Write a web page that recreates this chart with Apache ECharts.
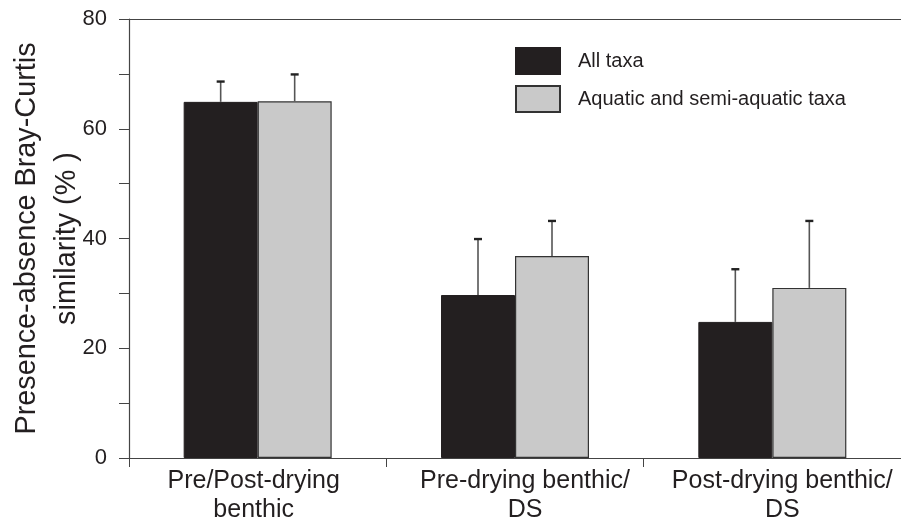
<!DOCTYPE html>
<html>
<head>
<meta charset="utf-8">
<script src="https://cdn.jsdelivr.net/npm/echarts@6/dist/echarts.min.js"></script>
<style>html,body{margin:0;padding:0;background:#fff;}#c{width:901px;height:526px;}</style>
</head>
<body>
<div id="c"></div>
<script>
var categories = ['Pre/Post-drying\nbenthic', 'Pre-drying benthic/\nDS', 'Post-drying benthic/\nDS'];
var seriesNames = ['All taxa', 'Aquatic and semi-aquatic taxa'];
var allTaxa = [64.9, 29.7, 24.8];
var allTaxaErrTop = [68.6, 39.9, 34.4];
var aquaticTaxa = [65.0, 36.8, 31.0];
var aquaticTaxaErrTop = [69.9, 43.2, 43.2];
var yTicks = [0, 20, 40, 60, 80];
var labelShift = [-4, 10, 10];

var BAR_W = 74;
var textColor = '#231f20';
var axisColor = '#444';

function errData(vals, tops) {
  return vals.map(function (v, i) { return [i, v, tops[i]]; });
}
function errRender(side) {
  return function (params, api) {
    var c = api.value(0);
    var base = api.coord([c, api.value(1)]);
    var top = api.coord([c, api.value(2)]);
    var x = base[0] + side * BAR_W / 2;
    return {
      type: 'group',
      children: [
        { type: 'line', shape: { x1: x, y1: base[1], x2: x, y2: top[1] }, style: { stroke: '#555', lineWidth: 1.6 } },
        { type: 'line', shape: { x1: x - 4, y1: top[1], x2: x + 4, y2: top[1] }, style: { stroke: '#222', lineWidth: 2.4 } }
      ]
    };
  };
}

var catData = categories.map(function (c, i) {
  var s = labelShift[i];
  return { value: c, textStyle: { padding: s >= 0 ? [0, 0, 0, 2 * s] : [0, -2 * s, 0, 0] } };
});

var chart = echarts.init(document.getElementById('c'), null, { renderer: 'canvas' });
chart.setOption({
  animation: false,
  backgroundColor: '#fff',
  grid: { left: 129, right: 0, top: 19, bottom: 68, containLabel: false, outerBoundsMode: 'none' },
  legend: {
    orient: 'vertical', left: 515, top: 47, padding: 0,
    itemWidth: 44, itemHeight: 26, itemGap: 10, icon: 'rect',
    data: seriesNames,
    textStyle: { fontFamily: 'Liberation Sans, Arial, sans-serif', fontSize: 20, color: textColor, padding: [0, 0, 0, 13] }
  },
  xAxis: [{
    type: 'category', data: catData, position: 'bottom',
    axisLine: { lineStyle: { color: axisColor, width: 1.2 } },
    axisTick: { show: true, length: 9, lineStyle: { color: axisColor } },
    axisLabel: { fontFamily: 'Liberation Sans, Arial, sans-serif', fontSize: 25, lineHeight: 29, color: textColor, margin: 9, interval: 0 }
  }, {
    type: 'category', data: categories, position: 'top',
    axisLine: { show: true, lineStyle: { color: axisColor, width: 1.2 } },
    axisTick: { show: false }, axisLabel: { show: false }
  }],
  yAxis: {
    type: 'value', min: 0, max: 80, interval: 10,
    name: 'Presence-absence Bray-Curtis\nsimilarity (% )',
    nameLocation: 'middle', nameGap: 42, nameMoveOverlap: false,
    nameTextStyle: { fontFamily: 'Liberation Sans, Arial, sans-serif', fontSize: 28.8, lineHeight: 40, color: textColor },
    axisLine: { show: true, lineStyle: { color: axisColor, width: 1.2 } },
    axisTick: { show: true, length: 10, lineStyle: { color: axisColor } },
    splitLine: { show: false },
    axisLabel: {
      fontFamily: 'Liberation Sans, Arial, sans-serif', fontSize: 22, color: textColor, margin: 22,
      formatter: function (v) { return yTicks.indexOf(v) >= 0 ? String(v) : ''; }
    }
  },
  series: [
    { name: seriesNames[0], type: 'bar', data: allTaxa, barWidth: BAR_W, barGap: '0%',
      itemStyle: { color: '#231f20', borderColor: '#231f20', borderWidth: 1 } },
    { name: seriesNames[1], type: 'bar', data: aquaticTaxa, barWidth: BAR_W, barGap: '0%',
      itemStyle: { color: '#c9c9c9', borderColor: '#333', borderWidth: 1.2 } },
    { type: 'custom', renderItem: errRender(-1), data: errData(allTaxa, allTaxaErrTop), z: 3, silent: true },
    { type: 'custom', renderItem: errRender(1), data: errData(aquaticTaxa, aquaticTaxaErrTop), z: 3, silent: true }
  ]
});
</script>
</body>
</html>
